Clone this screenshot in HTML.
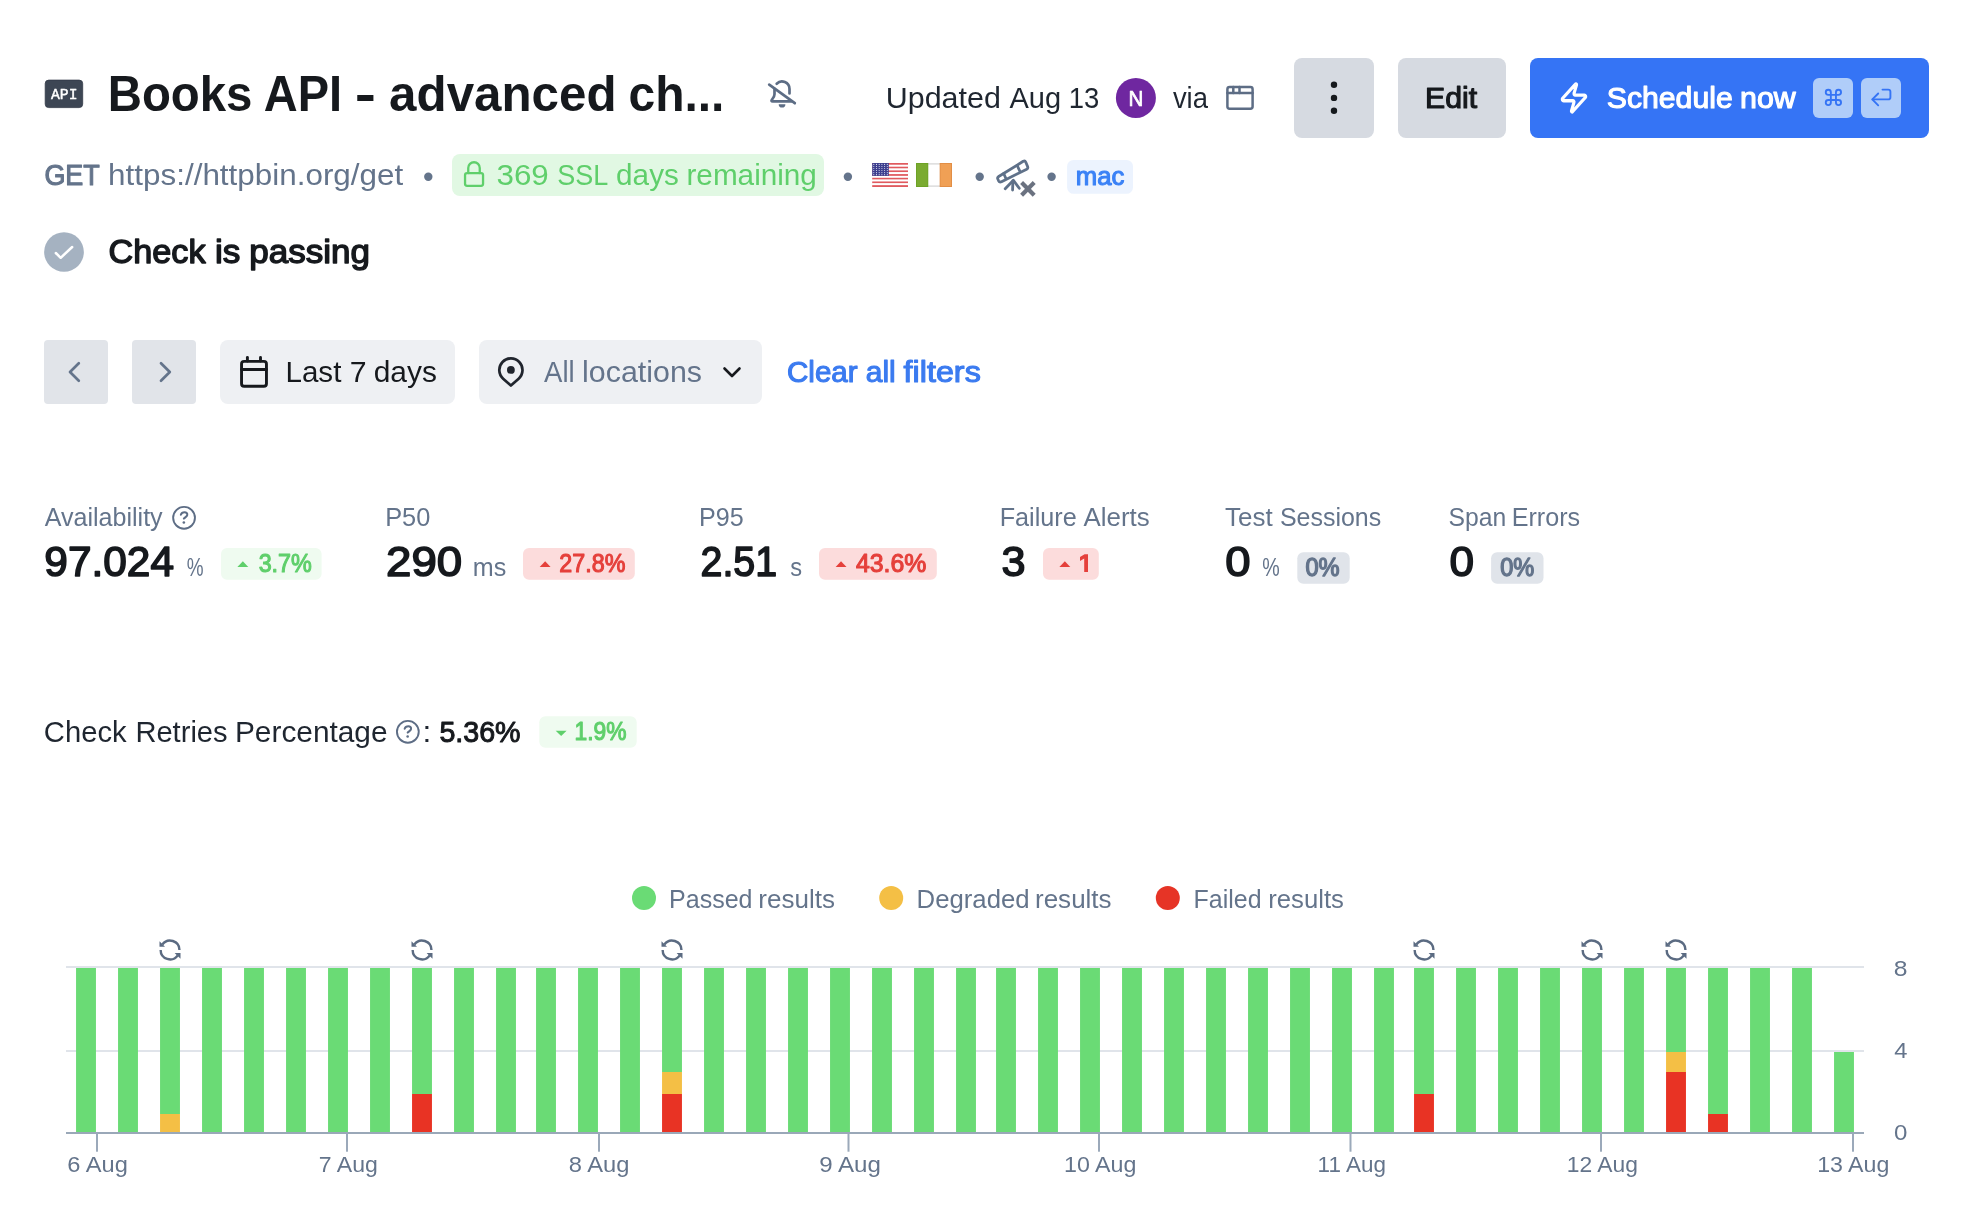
<!DOCTYPE html>
<html lang="en"><head><meta charset="utf-8"><title>Books API - advanced checks</title>
<style>
html,body{margin:0;padding:0;background:#ffffff;}
body{width:1988px;height:1218px;overflow:hidden;font-family:"Liberation Sans",sans-serif;}
svg{display:block;will-change:transform;}
</style></head>
<body>
<svg width="1988" height="1218" viewBox="0 0 1988 1218">
<rect x="45.2" y="80.1" width="37.5" height="27.5" rx="3.5" fill="#3d4654" stroke="#323a47" stroke-width="0.8"/>
<text y="99" font-family="Liberation Mono" font-size="15.5" font-weight="normal" fill="#ffffff" stroke="#ffffff" stroke-width="0.45" stroke-linejoin="round"><tspan x="51.04" textLength="26.48" lengthAdjust="spacingAndGlyphs">API</tspan></text>
<text y="110.8" font-family="Liberation Sans" font-size="50" font-weight="bold" fill="#16191d"><tspan x="107.70" textLength="144.75" lengthAdjust="spacingAndGlyphs">Books</tspan> <tspan x="263.83" textLength="78.32" lengthAdjust="spacingAndGlyphs">API</tspan> <tspan x="354.65" textLength="21.23" lengthAdjust="spacingAndGlyphs">-</tspan> <tspan x="389.12" textLength="227.42" lengthAdjust="spacingAndGlyphs">advanced</tspan> <tspan x="628.48" textLength="95.98" lengthAdjust="spacingAndGlyphs">ch...</tspan></text>
<g fill="none" stroke="#5d6d85" stroke-width="2.7" stroke-linecap="round" stroke-linejoin="round"><path d="M776.7 83.7 A7.5 7.5 0 0 1 789.5 89 V93.5"/><path d="M774.5 88.8 V94.3 Q774.5 97 772 99.6 Q770.6 101.3 772.8 101.3 H791.5"/><path d="M769.2 84.6 L794.8 103.2"/></g>
<path d="M778.7 104.2 H785.4 A3.35 3.35 0 0 1 778.7 104.2 Z" fill="#5d6d85"/>
<text y="107.8" font-family="Liberation Sans" font-size="29" font-weight="normal" fill="#1f2630"><tspan x="885.74" textLength="115.15" lengthAdjust="spacingAndGlyphs">Updated</tspan> <tspan x="1009.47" textLength="51.68" lengthAdjust="spacingAndGlyphs">Aug</tspan> <tspan x="1068.77" textLength="30.52" lengthAdjust="spacingAndGlyphs">13</tspan></text>
<circle cx="1135.9" cy="97.9" r="20" fill="#6f27a0" />
<text y="106" font-family="Liberation Sans" font-size="21.5" font-weight="normal" fill="#ffffff" stroke="#ffffff" stroke-width="0.7" stroke-linejoin="round"><tspan x="1128.58" textLength="14.86" lengthAdjust="spacingAndGlyphs">N</tspan></text>
<text y="107.8" font-family="Liberation Sans" font-size="29" font-weight="normal" fill="#1f2630"><tspan x="1172.88" textLength="35.07" lengthAdjust="spacingAndGlyphs">via</tspan></text>
<g fill="none" stroke="#5d6d85" stroke-width="2.5" stroke-linecap="round" stroke-linejoin="round"><rect x="1227.4" y="87.1" width="25.2" height="21.7" rx="2.2"/><path d="M1227.4 93.1H1252.6"/><path d="M1233.3 87.1V93.1"/><path d="M1239.5 87.1V93.1"/></g>
<rect x="1294" y="58" width="80" height="80" rx="8" fill="#d6dae1" />
<circle cx="1334" cy="84.8" r="3.2" fill="#16191d" />
<circle cx="1334" cy="97.9" r="3.2" fill="#16191d" />
<circle cx="1334" cy="110.8" r="3.2" fill="#16191d" />
<rect x="1398" y="58" width="108" height="80" rx="8" fill="#d6dae1" />
<text y="108" font-family="Liberation Sans" font-size="29" font-weight="normal" fill="#16191d" stroke="#16191d" stroke-width="1.1" stroke-linejoin="round"><tspan x="1425.05" textLength="52.06" lengthAdjust="spacingAndGlyphs">Edit</tspan></text>
<rect x="1530" y="58" width="399" height="80" rx="8" fill="#3574f5" />
<g transform="translate(1558.4,81.1) scale(1.3,1.4)" fill="none" stroke="#ffffff" stroke-width="2.4" stroke-linecap="round" stroke-linejoin="round"><path d="M4 14a1 1 0 0 1-.78-1.63l9.9-10.2a.5.5 0 0 1 .86.46l-1.92 6.02A1 1 0 0 0 13 10h7a1 1 0 0 1 .78 1.63l-9.9 10.2a.5.5 0 0 1-.86-.46l1.92-6.02A1 1 0 0 0 11 14z"/></g>
<text y="107.5" font-family="Liberation Sans" font-size="29" font-weight="normal" fill="#ffffff" stroke="#ffffff" stroke-width="1.1" stroke-linejoin="round"><tspan x="1606.82" textLength="125.89" lengthAdjust="spacingAndGlyphs">Schedule</tspan> <tspan x="1740.06" textLength="55.66" lengthAdjust="spacingAndGlyphs">now</tspan></text>
<rect x="1813" y="78" width="40" height="40" rx="6" fill="#b0cdf9" />
<rect x="1861" y="78" width="40" height="40" rx="6" fill="#b0cdf9" />
<g transform="translate(1823.2,87.25) scale(0.85)" fill="none" stroke="#3574f5" stroke-width="2.2" stroke-linecap="round" stroke-linejoin="round"><path d="M15 6v12a3 3 0 1 0 3-3H6a3 3 0 1 0 3 3V6a3 3 0 1 0-3 3h12a3 3 0 1 0-3-3"/></g>
<g fill="none" stroke="#3574f5" stroke-width="1.9" stroke-linecap="round" stroke-linejoin="round"><path d="M1882.5 89.6H1888.2Q1890.4 89.6 1890.4 91.8V97.2Q1890.4 99.4 1888.2 99.4H1872.6"/><path d="M1878.2 93.5L1872.3 99.4L1878.2 105.3"/></g>
<text y="184.7" font-family="Liberation Sans" font-size="29" font-weight="normal" fill="#64748b" stroke="#64748b" stroke-width="1.1" stroke-linejoin="round"><tspan x="44.39" textLength="55.42" lengthAdjust="spacingAndGlyphs">GET</tspan></text>
<text y="184.7" font-family="Liberation Sans" font-size="29" font-weight="normal" fill="#64748b"><tspan x="108.13" textLength="295.09" lengthAdjust="spacingAndGlyphs">https://httpbin.org/get</tspan></text>
<circle cx="428.3" cy="176.8" r="4.2" fill="#64748b" />
<circle cx="847.9" cy="176.8" r="4.2" fill="#64748b" />
<circle cx="979.7" cy="176.8" r="4.2" fill="#64748b" />
<circle cx="1051.6" cy="176.8" r="4.2" fill="#64748b" />
<rect x="452" y="154" width="372" height="42" rx="8" fill="#e1f8e3" />
<g fill="none" stroke="#5fcf6b" stroke-width="2.3" stroke-linecap="round" stroke-linejoin="round"><rect x="465.05" y="173.05" width="18" height="12.8" rx="2"/><path d="M468.25 173V168A5.75 5.75 0 0 1 479.75 168V173"/></g>
<text y="184.9" font-family="Liberation Sans" font-size="29" font-weight="normal" fill="#5fcf6b"><tspan x="496.48" textLength="52.32" lengthAdjust="spacingAndGlyphs">369</tspan> <tspan x="557.15" textLength="50.01" lengthAdjust="spacingAndGlyphs">SSL</tspan> <tspan x="616.12" textLength="62.71" lengthAdjust="spacingAndGlyphs">days</tspan> <tspan x="686.48" textLength="130.41" lengthAdjust="spacingAndGlyphs">remaining</tspan></text>
<g transform="translate(872.2,163)"><rect x="0" y="0.000" width="35.8" height="1.846" fill="#e05a5e"/><rect x="0" y="1.846" width="35.8" height="1.846" fill="#ffffff"/><rect x="0" y="3.692" width="35.8" height="1.846" fill="#e05a5e"/><rect x="0" y="5.538" width="35.8" height="1.846" fill="#ffffff"/><rect x="0" y="7.385" width="35.8" height="1.846" fill="#e05a5e"/><rect x="0" y="9.231" width="35.8" height="1.846" fill="#ffffff"/><rect x="0" y="11.077" width="35.8" height="1.846" fill="#e05a5e"/><rect x="0" y="12.923" width="35.8" height="1.846" fill="#ffffff"/><rect x="0" y="14.769" width="35.8" height="1.846" fill="#e05a5e"/><rect x="0" y="16.615" width="35.8" height="1.846" fill="#ffffff"/><rect x="0" y="18.462" width="35.8" height="1.846" fill="#e05a5e"/><rect x="0" y="20.308" width="35.8" height="1.846" fill="#ffffff"/><rect x="0" y="22.154" width="35.8" height="1.846" fill="#e05a5e"/><rect x="0" y="0" width="16.6" height="12.9" fill="#3d3f8f"/><circle cx="1.6" cy="1.4" r="0.55" fill="#dfe0f0"/><circle cx="4.300000000000001" cy="1.4" r="0.55" fill="#dfe0f0"/><circle cx="7.0" cy="1.4" r="0.55" fill="#dfe0f0"/><circle cx="9.700000000000001" cy="1.4" r="0.55" fill="#dfe0f0"/><circle cx="12.4" cy="1.4" r="0.55" fill="#dfe0f0"/><circle cx="15.1" cy="1.4" r="0.55" fill="#dfe0f0"/><circle cx="1.6" cy="3.4499999999999997" r="0.55" fill="#dfe0f0"/><circle cx="4.300000000000001" cy="3.4499999999999997" r="0.55" fill="#dfe0f0"/><circle cx="7.0" cy="3.4499999999999997" r="0.55" fill="#dfe0f0"/><circle cx="9.700000000000001" cy="3.4499999999999997" r="0.55" fill="#dfe0f0"/><circle cx="12.4" cy="3.4499999999999997" r="0.55" fill="#dfe0f0"/><circle cx="15.1" cy="3.4499999999999997" r="0.55" fill="#dfe0f0"/><circle cx="1.6" cy="5.5" r="0.55" fill="#dfe0f0"/><circle cx="4.300000000000001" cy="5.5" r="0.55" fill="#dfe0f0"/><circle cx="7.0" cy="5.5" r="0.55" fill="#dfe0f0"/><circle cx="9.700000000000001" cy="5.5" r="0.55" fill="#dfe0f0"/><circle cx="12.4" cy="5.5" r="0.55" fill="#dfe0f0"/><circle cx="15.1" cy="5.5" r="0.55" fill="#dfe0f0"/><circle cx="1.6" cy="7.549999999999999" r="0.55" fill="#dfe0f0"/><circle cx="4.300000000000001" cy="7.549999999999999" r="0.55" fill="#dfe0f0"/><circle cx="7.0" cy="7.549999999999999" r="0.55" fill="#dfe0f0"/><circle cx="9.700000000000001" cy="7.549999999999999" r="0.55" fill="#dfe0f0"/><circle cx="12.4" cy="7.549999999999999" r="0.55" fill="#dfe0f0"/><circle cx="15.1" cy="7.549999999999999" r="0.55" fill="#dfe0f0"/><circle cx="1.6" cy="9.6" r="0.55" fill="#dfe0f0"/><circle cx="4.300000000000001" cy="9.6" r="0.55" fill="#dfe0f0"/><circle cx="7.0" cy="9.6" r="0.55" fill="#dfe0f0"/><circle cx="9.700000000000001" cy="9.6" r="0.55" fill="#dfe0f0"/><circle cx="12.4" cy="9.6" r="0.55" fill="#dfe0f0"/><circle cx="15.1" cy="9.6" r="0.55" fill="#dfe0f0"/><circle cx="1.6" cy="11.65" r="0.55" fill="#dfe0f0"/><circle cx="4.300000000000001" cy="11.65" r="0.55" fill="#dfe0f0"/><circle cx="7.0" cy="11.65" r="0.55" fill="#dfe0f0"/><circle cx="9.700000000000001" cy="11.65" r="0.55" fill="#dfe0f0"/><circle cx="12.4" cy="11.65" r="0.55" fill="#dfe0f0"/><circle cx="15.1" cy="11.65" r="0.55" fill="#dfe0f0"/></g>
<rect x="916" y="163" width="12" height="24" rx="0" fill="#7aab31" />
<rect x="928" y="163" width="12" height="24" rx="0" fill="#ffffff" />
<rect x="940" y="163" width="12" height="24" rx="0" fill="#f0a055" />
<rect x="928" y="163" width="12" height="1.7" rx="0" fill="#e0e0e0" />
<rect x="928" y="185.3" width="12" height="1.7" rx="0" fill="#e0e0e0" />
<rect x="916.5" y="163.5" width="11.5" height="23" rx="0" fill="none" stroke="#5f9a1c" stroke-opacity="0.5" stroke-width="1"/>
<rect x="940" y="163.5" width="11.5" height="23" rx="0" fill="none" stroke="#d9823a" stroke-opacity="0.6" stroke-width="1"/>
<g fill="none" stroke="#5f7189" stroke-width="2.8" stroke-linecap="round" stroke-linejoin="round"><path d="M998.3 176.8 L1023.2 161.3 Q1025 160.5 1025.7 162 L1027.7 166.8 Q1028.2 168.4 1026.7 169.2 L1001.5 181.8 Q999.5 182.6 998.6 180.8 L997.7 178.8 Q997.3 177.5 998.3 176.8 Z"/><path d="M1003.7 173.5 L1005.8 178.3"/><path d="M1017.2 165.5 L1019.6 170.6"/><path d="M1005.2 188.8 L1013.4 180.2 L1019.3 188.3"/><path d="M1012.9 181 L1012.6 190"/></g>
<g stroke="#6b7280" stroke-width="4.2" stroke-linecap="butt"><path d="M1021.6 182.6 L1034.2 195.2"/><path d="M1034.2 182.6 L1021.6 195.2"/></g>
<rect x="1067.1" y="159.9" width="65.9" height="33.9" rx="6.5" fill="#ecf3fe" />
<text y="185" font-family="Liberation Sans" font-size="25.5" font-weight="normal" fill="#3b82f6" stroke="#3b82f6" stroke-width="1.1" stroke-linejoin="round"><tspan x="1075.76" textLength="48.61" lengthAdjust="spacingAndGlyphs">mac</tspan></text>
<circle cx="64" cy="252" r="19.85" fill="#a5b2c1" />
<path d="M55.8 253 L60.7 257.8 L72.2 247" fill="none" stroke="#ffffff" stroke-width="2.5" stroke-linecap="round" stroke-linejoin="round"/>
<text y="263.1" font-family="Liberation Sans" font-size="33" font-weight="normal" fill="#16191d" stroke="#16191d" stroke-width="1.4000000000000001" stroke-linejoin="round"><tspan x="108.56" textLength="97.00" lengthAdjust="spacingAndGlyphs">Check</tspan> <tspan x="215.00" textLength="25.38" lengthAdjust="spacingAndGlyphs">is</tspan> <tspan x="249.24" textLength="120.64" lengthAdjust="spacingAndGlyphs">passing</tspan></text>
<rect x="44" y="340" width="64" height="64" rx="4" fill="#e1e4e9" />
<rect x="132" y="340" width="64" height="64" rx="4" fill="#e1e4e9" />
<path d="M78.8 363.2 L70 372 L78.8 380.8" fill="none" stroke="#64748b" stroke-width="2.7" stroke-linecap="round" stroke-linejoin="round"/>
<path d="M161 363.2 L169.8 372 L161 380.8" fill="none" stroke="#64748b" stroke-width="2.7" stroke-linecap="round" stroke-linejoin="round"/>
<rect x="220" y="340" width="235" height="64" rx="8" fill="#eef0f3" />
<g fill="none" stroke="#16191d" stroke-width="2.9" stroke-linecap="round" stroke-linejoin="round"><path d="M247.4 357.5V361"/><path d="M260.5 357.5V361"/><rect width="24.9" height="24.9" x="241.55" y="361.35" rx="2.6"/><path d="M241.55 369.5H266.45"/></g>
<text y="382.1" font-family="Liberation Sans" font-size="29" font-weight="normal" fill="#16191d"><tspan x="285.48" textLength="55.92" lengthAdjust="spacingAndGlyphs">Last</tspan> <tspan x="349.83" textLength="16.84" lengthAdjust="spacingAndGlyphs">7</tspan> <tspan x="373.71" textLength="63.23" lengthAdjust="spacingAndGlyphs">days</tspan></text>
<rect x="479" y="340" width="283" height="64" rx="8" fill="#eef0f3" />
<path d="M503.15 378.63A11.6 11.6 0 1 1 518.65 378.63L510.9 385.6Z" fill="none" stroke="#20252d" stroke-width="2.7" stroke-linejoin="round"/>
<circle cx="510.9" cy="369.9" r="3.9" fill="#20252d" />
<text y="382" font-family="Liberation Sans" font-size="29" font-weight="normal" fill="#64748b"><tspan x="544.08" textLength="30.60" lengthAdjust="spacingAndGlyphs">All</tspan> <tspan x="582.10" textLength="119.93" lengthAdjust="spacingAndGlyphs">locations</tspan></text>
<path d="M724.5 368.5 l7.5 7.5 l7.5 -7.5" fill="none" stroke="#16191d" stroke-width="2.6" stroke-linecap="round" stroke-linejoin="round"/>
<text y="381.6" font-family="Liberation Sans" font-size="29" font-weight="normal" fill="#3b7bf0" stroke="#3b7bf0" stroke-width="1.1" stroke-linejoin="round"><tspan x="787.01" textLength="70.62" lengthAdjust="spacingAndGlyphs">Clear</tspan> <tspan x="865.75" textLength="29.98" lengthAdjust="spacingAndGlyphs">all</tspan> <tspan x="903.64" textLength="77.16" lengthAdjust="spacingAndGlyphs">filters</tspan></text>
<text y="526" font-family="Liberation Sans" font-size="25" font-weight="normal" fill="#64748b"><tspan x="44.67" textLength="117.98" lengthAdjust="spacingAndGlyphs">Availability</tspan></text>
<circle cx="184.05" cy="517.8" r="10.9" fill="none" stroke="#5d6d85" stroke-width="1.9"/>
<path d="M180.85000000000002 514.8 C181.45000000000002 512.8 183.05 512.1999999999999 184.55 512.1999999999999 C186.35000000000002 512.1999999999999 187.55 513.4 187.25 515.0 C186.95000000000002 516.5999999999999 184.95000000000002 517.3 183.85000000000002 518.5999999999999" fill="none" stroke="#5d6d85" stroke-width="2" stroke-linecap="round"/>
<circle cx="183.85000000000002" cy="522.5" r="1.3" fill="#5d6d85"/>
<text y="526" font-family="Liberation Sans" font-size="25" font-weight="normal" fill="#64748b"><tspan x="385.17" textLength="45.13" lengthAdjust="spacingAndGlyphs">P50</tspan></text>
<text y="526" font-family="Liberation Sans" font-size="25" font-weight="normal" fill="#64748b"><tspan x="698.99" textLength="44.70" lengthAdjust="spacingAndGlyphs">P95</tspan></text>
<text y="526" font-family="Liberation Sans" font-size="25" font-weight="normal" fill="#64748b"><tspan x="999.68" textLength="76.99" lengthAdjust="spacingAndGlyphs">Failure</tspan> <tspan x="1083.47" textLength="66.17" lengthAdjust="spacingAndGlyphs">Alerts</tspan></text>
<text y="526" font-family="Liberation Sans" font-size="25" font-weight="normal" fill="#64748b"><tspan x="1225.05" textLength="47.58" lengthAdjust="spacingAndGlyphs">Test</tspan> <tspan x="1279.88" textLength="101.36" lengthAdjust="spacingAndGlyphs">Sessions</tspan></text>
<text y="526" font-family="Liberation Sans" font-size="25" font-weight="normal" fill="#64748b"><tspan x="1448.59" textLength="57.73" lengthAdjust="spacingAndGlyphs">Span</tspan> <tspan x="1511.69" textLength="68.45" lengthAdjust="spacingAndGlyphs">Errors</tspan></text>
<text y="576" font-family="Liberation Sans" font-size="43" font-weight="normal" fill="#16191d" stroke="#16191d" stroke-width="1.6" stroke-linejoin="round"><tspan x="44.37" textLength="129.64" lengthAdjust="spacingAndGlyphs">97.024</tspan></text>
<text y="576" font-family="Liberation Sans" font-size="25" font-weight="normal" fill="#64748b"><tspan x="186.84" textLength="16.81" lengthAdjust="spacingAndGlyphs">%</tspan></text>
<rect x="221" y="548" width="100.6" height="31.7" rx="6" fill="#effbf0" />
<path d="M237.4 566.95 L248.3 566.95 L242.85 561.25 Z" fill="#5fcf6b"/>
<text y="571.7" font-family="Liberation Sans" font-size="25" font-weight="normal" fill="#5fcf6b" stroke="#5fcf6b" stroke-width="1.1" stroke-linejoin="round"><tspan x="258.65" textLength="53.18" lengthAdjust="spacingAndGlyphs">3.7%</tspan></text>
<text y="576" font-family="Liberation Sans" font-size="43" font-weight="normal" fill="#16191d" stroke="#16191d" stroke-width="1.6" stroke-linejoin="round"><tspan x="386.04" textLength="76.08" lengthAdjust="spacingAndGlyphs">290</tspan></text>
<text y="576" font-family="Liberation Sans" font-size="25" font-weight="normal" fill="#64748b"><tspan x="472.87" textLength="33.49" lengthAdjust="spacingAndGlyphs">ms</tspan></text>
<rect x="523" y="548" width="111.8" height="31.7" rx="6" fill="#fcdcdc" />
<path d="M539.7 566.95 L550.6 566.95 L545.1500000000001 561.25 Z" fill="#e5403b"/>
<text y="571.7" font-family="Liberation Sans" font-size="25" font-weight="normal" fill="#e5403b" stroke="#e5403b" stroke-width="1.1" stroke-linejoin="round"><tspan x="559.30" textLength="66.06" lengthAdjust="spacingAndGlyphs">27.8%</tspan></text>
<text y="576" font-family="Liberation Sans" font-size="43" font-weight="normal" fill="#16191d" stroke="#16191d" stroke-width="1.6" stroke-linejoin="round"><tspan x="700.54" textLength="76.56" lengthAdjust="spacingAndGlyphs">2.51</tspan></text>
<text y="576" font-family="Liberation Sans" font-size="25" font-weight="normal" fill="#64748b"><tspan x="790.29" textLength="11.84" lengthAdjust="spacingAndGlyphs">s</tspan></text>
<rect x="819" y="548" width="117.8" height="31.7" rx="6" fill="#fcdcdc" />
<path d="M835.6 566.95 L846.5 566.95 L841.0500000000001 561.25 Z" fill="#e5403b"/>
<text y="571.7" font-family="Liberation Sans" font-size="25" font-weight="normal" fill="#e5403b" stroke="#e5403b" stroke-width="1.1" stroke-linejoin="round"><tspan x="856.00" textLength="70.38" lengthAdjust="spacingAndGlyphs">43.6%</tspan></text>
<text y="576" font-family="Liberation Sans" font-size="43" font-weight="normal" fill="#16191d" stroke="#16191d" stroke-width="1.6" stroke-linejoin="round"><tspan x="1001.62" textLength="24.02" lengthAdjust="spacingAndGlyphs">3</tspan></text>
<rect x="1043" y="548" width="55.8" height="31.7" rx="6" fill="#fcdcdc" />
<path d="M1059.4 566.95 L1070.3000000000002 566.95 L1064.8500000000001 561.25 Z" fill="#e5403b"/>
<path d="M1080 557 L1084.6 554.3 H1088 V571.9 H1084.2 V558.5 L1080 560.9 Z" fill="#e5403b"/>
<text y="576" font-family="Liberation Sans" font-size="43" font-weight="normal" fill="#16191d" stroke="#16191d" stroke-width="1.6" stroke-linejoin="round"><tspan x="1225.27" textLength="25.29" lengthAdjust="spacingAndGlyphs">0</tspan></text>
<text y="576" font-family="Liberation Sans" font-size="25" font-weight="normal" fill="#64748b"><tspan x="1262.21" textLength="17.46" lengthAdjust="spacingAndGlyphs">%</tspan></text>
<rect x="1297.3" y="552.3" width="52.4" height="31.4" rx="6" fill="#e0e4ea" />
<text y="575.8" font-family="Liberation Sans" font-size="25" font-weight="normal" fill="#64748b" stroke="#64748b" stroke-width="1.4000000000000001" stroke-linejoin="round"><tspan x="1305.46" textLength="34.16" lengthAdjust="spacingAndGlyphs">0%</tspan></text>
<text y="576" font-family="Liberation Sans" font-size="43" font-weight="normal" fill="#16191d" stroke="#16191d" stroke-width="1.6" stroke-linejoin="round"><tspan x="1449.40" textLength="24.54" lengthAdjust="spacingAndGlyphs">0</tspan></text>
<rect x="1491.1" y="552.3" width="52.4" height="31.4" rx="6" fill="#e0e4ea" />
<text y="575.8" font-family="Liberation Sans" font-size="25" font-weight="normal" fill="#64748b" stroke="#64748b" stroke-width="1.4000000000000001" stroke-linejoin="round"><tspan x="1500.16" textLength="34.06" lengthAdjust="spacingAndGlyphs">0%</tspan></text>
<text y="741.8" font-family="Liberation Sans" font-size="29" font-weight="normal" fill="#1f2630"><tspan x="43.89" textLength="82.79" lengthAdjust="spacingAndGlyphs">Check</tspan> <tspan x="135.42" textLength="92.20" lengthAdjust="spacingAndGlyphs">Retries</tspan> <tspan x="234.96" textLength="152.61" lengthAdjust="spacingAndGlyphs">Percentage</tspan></text>
<circle cx="407.85" cy="731.8" r="10.9" fill="none" stroke="#5d6d85" stroke-width="1.9"/>
<path d="M404.65000000000003 728.8 C405.25 726.8 406.85 726.1999999999999 408.35 726.1999999999999 C410.15000000000003 726.1999999999999 411.35 727.4 411.05 729.0 C410.75 730.5999999999999 408.75 731.3 407.65000000000003 732.5999999999999" fill="none" stroke="#5d6d85" stroke-width="2" stroke-linecap="round"/>
<circle cx="407.65000000000003" cy="736.5" r="1.3" fill="#5d6d85"/>
<text y="741.8" font-family="Liberation Sans" font-size="29" font-weight="normal" fill="#1f2630"><tspan x="422.44" textLength="8.79" lengthAdjust="spacingAndGlyphs">:</tspan></text>
<text y="741.7" font-family="Liberation Sans" font-size="29" font-weight="normal" fill="#16191d" stroke="#16191d" stroke-width="1.0" stroke-linejoin="round"><tspan x="439.38" textLength="81.21" lengthAdjust="spacingAndGlyphs">5.36%</tspan></text>
<rect x="539.3" y="716.3" width="97.4" height="31.5" rx="6" fill="#effbf0" />
<path d="M555.7 730.8 L566.6 730.8 L561.1500000000001 736.0 Z" fill="#5fcf6b"/>
<text y="739.6" font-family="Liberation Sans" font-size="25" font-weight="normal" fill="#5fcf6b" stroke="#5fcf6b" stroke-width="1.1" stroke-linejoin="round"><tspan x="574.55" textLength="51.98" lengthAdjust="spacingAndGlyphs">1.9%</tspan></text>
<circle cx="644" cy="898" r="12" fill="#6adb75" />
<circle cx="891.2" cy="898" r="12" fill="#f4bf45" />
<circle cx="1167.8" cy="898" r="12" fill="#e63426" />
<text y="908.2" font-family="Liberation Sans" font-size="25" font-weight="normal" fill="#64748b"><tspan x="669.10" textLength="83.44" lengthAdjust="spacingAndGlyphs">Passed</tspan> <tspan x="758.31" textLength="76.61" lengthAdjust="spacingAndGlyphs">results</tspan></text>
<text y="908.2" font-family="Liberation Sans" font-size="25" font-weight="normal" fill="#64748b"><tspan x="916.64" textLength="112.98" lengthAdjust="spacingAndGlyphs">Degraded</tspan> <tspan x="1035.01" textLength="76.61" lengthAdjust="spacingAndGlyphs">results</tspan></text>
<text y="908.2" font-family="Liberation Sans" font-size="25" font-weight="normal" fill="#64748b"><tspan x="1193.61" textLength="67.88" lengthAdjust="spacingAndGlyphs">Failed</tspan> <tspan x="1268.23" textLength="75.68" lengthAdjust="spacingAndGlyphs">results</tspan></text>
<rect x="66" y="966" width="1798" height="2" rx="0" fill="#e0e4ea" />
<rect x="66" y="1050" width="1798" height="2" rx="0" fill="#e0e4ea" />
<rect x="76.05" y="968" width="19.9" height="166" rx="0" fill="#6adb75" />
<rect x="118.05" y="968" width="19.9" height="166" rx="0" fill="#6adb75" />
<rect x="160.05" y="1114" width="19.9" height="20" rx="0" fill="#f4bf45" />
<rect x="160.05" y="968" width="19.9" height="146" rx="0" fill="#6adb75" />
<rect x="202.05" y="968" width="19.9" height="166" rx="0" fill="#6adb75" />
<rect x="244.05" y="968" width="19.9" height="166" rx="0" fill="#6adb75" />
<rect x="286.05" y="968" width="19.9" height="166" rx="0" fill="#6adb75" />
<rect x="328.05" y="968" width="19.9" height="166" rx="0" fill="#6adb75" />
<rect x="370.05" y="968" width="19.9" height="166" rx="0" fill="#6adb75" />
<rect x="412.05" y="1094" width="19.9" height="40" rx="0" fill="#e83324" />
<rect x="412.05" y="968" width="19.9" height="126" rx="0" fill="#6adb75" />
<rect x="454.05" y="968" width="19.9" height="166" rx="0" fill="#6adb75" />
<rect x="496.05" y="968" width="19.9" height="166" rx="0" fill="#6adb75" />
<rect x="536.05" y="968" width="19.9" height="166" rx="0" fill="#6adb75" />
<rect x="578.05" y="968" width="19.9" height="166" rx="0" fill="#6adb75" />
<rect x="620.05" y="968" width="19.9" height="166" rx="0" fill="#6adb75" />
<rect x="662.05" y="1094" width="19.9" height="40" rx="0" fill="#e83324" />
<rect x="662.05" y="1072" width="19.9" height="22" rx="0" fill="#f4bf45" />
<rect x="662.05" y="968" width="19.9" height="104" rx="0" fill="#6adb75" />
<rect x="704.05" y="968" width="19.9" height="166" rx="0" fill="#6adb75" />
<rect x="746.05" y="968" width="19.9" height="166" rx="0" fill="#6adb75" />
<rect x="788.05" y="968" width="19.9" height="166" rx="0" fill="#6adb75" />
<rect x="830.05" y="968" width="19.9" height="166" rx="0" fill="#6adb75" />
<rect x="872.05" y="968" width="19.9" height="166" rx="0" fill="#6adb75" />
<rect x="914.05" y="968" width="19.9" height="166" rx="0" fill="#6adb75" />
<rect x="956.05" y="968" width="19.9" height="166" rx="0" fill="#6adb75" />
<rect x="996.05" y="968" width="19.9" height="166" rx="0" fill="#6adb75" />
<rect x="1038.05" y="968" width="19.9" height="166" rx="0" fill="#6adb75" />
<rect x="1080.05" y="968" width="19.9" height="166" rx="0" fill="#6adb75" />
<rect x="1122.05" y="968" width="19.9" height="166" rx="0" fill="#6adb75" />
<rect x="1164.05" y="968" width="19.9" height="166" rx="0" fill="#6adb75" />
<rect x="1206.05" y="968" width="19.9" height="166" rx="0" fill="#6adb75" />
<rect x="1248.05" y="968" width="19.9" height="166" rx="0" fill="#6adb75" />
<rect x="1290.05" y="968" width="19.9" height="166" rx="0" fill="#6adb75" />
<rect x="1332.05" y="968" width="19.9" height="166" rx="0" fill="#6adb75" />
<rect x="1374.05" y="968" width="19.9" height="166" rx="0" fill="#6adb75" />
<rect x="1414.05" y="1094" width="19.9" height="40" rx="0" fill="#e83324" />
<rect x="1414.05" y="968" width="19.9" height="126" rx="0" fill="#6adb75" />
<rect x="1456.05" y="968" width="19.9" height="166" rx="0" fill="#6adb75" />
<rect x="1498.05" y="968" width="19.9" height="166" rx="0" fill="#6adb75" />
<rect x="1540.05" y="968" width="19.9" height="166" rx="0" fill="#6adb75" />
<rect x="1582.05" y="968" width="19.9" height="166" rx="0" fill="#6adb75" />
<rect x="1624.05" y="968" width="19.9" height="166" rx="0" fill="#6adb75" />
<rect x="1666.05" y="1072" width="19.9" height="62" rx="0" fill="#e83324" />
<rect x="1666.05" y="1052" width="19.9" height="20" rx="0" fill="#f4bf45" />
<rect x="1666.05" y="968" width="19.9" height="84" rx="0" fill="#6adb75" />
<rect x="1708.05" y="1114" width="19.9" height="20" rx="0" fill="#e83324" />
<rect x="1708.05" y="968" width="19.9" height="146" rx="0" fill="#6adb75" />
<rect x="1750.05" y="968" width="19.9" height="166" rx="0" fill="#6adb75" />
<rect x="1792.05" y="968" width="19.9" height="166" rx="0" fill="#6adb75" />
<rect x="1834.05" y="1052" width="19.9" height="82" rx="0" fill="#6adb75" />
<rect x="66" y="1132" width="1798" height="2" rx="0" fill="#9aa8b8" />
<rect x="96.00" y="1133" width="2" height="18.7" rx="0" fill="#9ba9ba" />
<text y="1172" font-family="Liberation Sans" font-size="22" font-weight="normal" fill="#64748b"><tspan x="67.39" textLength="60.52" lengthAdjust="spacingAndGlyphs">6 Aug</tspan></text>
<rect x="346.00" y="1133" width="2" height="18.7" rx="0" fill="#9ba9ba" />
<text y="1172" font-family="Liberation Sans" font-size="22" font-weight="normal" fill="#64748b"><tspan x="318.82" textLength="59.05" lengthAdjust="spacingAndGlyphs">7 Aug</tspan></text>
<rect x="598.00" y="1133" width="2" height="18.7" rx="0" fill="#9ba9ba" />
<text y="1172" font-family="Liberation Sans" font-size="22" font-weight="normal" fill="#64748b"><tspan x="568.82" textLength="60.69" lengthAdjust="spacingAndGlyphs">8 Aug</tspan></text>
<rect x="847.50" y="1133" width="2" height="18.7" rx="0" fill="#9ba9ba" />
<text y="1172" font-family="Liberation Sans" font-size="22" font-weight="normal" fill="#64748b"><tspan x="819.20" textLength="61.74" lengthAdjust="spacingAndGlyphs">9 Aug</tspan></text>
<rect x="1098.00" y="1133" width="2" height="18.7" rx="0" fill="#9ba9ba" />
<text y="1172" font-family="Liberation Sans" font-size="22" font-weight="normal" fill="#64748b"><tspan x="1064.08" textLength="72.38" lengthAdjust="spacingAndGlyphs">10 Aug</tspan></text>
<rect x="1349.50" y="1133" width="2" height="18.7" rx="0" fill="#9ba9ba" />
<text y="1172" font-family="Liberation Sans" font-size="22" font-weight="normal" fill="#64748b"><tspan x="1317.64" textLength="68.27" lengthAdjust="spacingAndGlyphs">11 Aug</tspan></text>
<rect x="1600.00" y="1133" width="2" height="18.7" rx="0" fill="#9ba9ba" />
<text y="1172" font-family="Liberation Sans" font-size="22" font-weight="normal" fill="#64748b"><tspan x="1566.81" textLength="71.13" lengthAdjust="spacingAndGlyphs">12 Aug</tspan></text>
<rect x="1852.00" y="1133" width="2" height="18.7" rx="0" fill="#9ba9ba" />
<text y="1172" font-family="Liberation Sans" font-size="22" font-weight="normal" fill="#64748b"><tspan x="1817.19" textLength="72.17" lengthAdjust="spacingAndGlyphs">13 Aug</tspan></text>
<text y="975.9" font-family="Liberation Sans" font-size="22" font-weight="normal" fill="#64748b"><tspan x="1893.78" textLength="13.73" lengthAdjust="spacingAndGlyphs">8</tspan></text>
<text y="1058" font-family="Liberation Sans" font-size="22" font-weight="normal" fill="#64748b"><tspan x="1894.16" textLength="13.20" lengthAdjust="spacingAndGlyphs">4</tspan></text>
<text y="1140" font-family="Liberation Sans" font-size="22" font-weight="normal" fill="#64748b"><tspan x="1894.04" textLength="13.40" lengthAdjust="spacingAndGlyphs">0</tspan></text>
<g fill="none" stroke="#5b6b82" stroke-width="2.4" stroke-linecap="butt"><path d="M162.35 944.56 A9.4 9.4 0 0 1 179.45 949.95"/><path d="M160.65 949.95 A9.4 9.4 0 0 0 177.75 955.34"/></g>
<path d="M159.50 941.20 L159.50 946.70 L165.00 946.70 Z" fill="#5b6b82"/>
<path d="M180.50 958.70 L180.50 953.00 L174.60 953.00 Z" fill="#5b6b82"/>
<g fill="none" stroke="#5b6b82" stroke-width="2.4" stroke-linecap="butt"><path d="M414.35 944.56 A9.4 9.4 0 0 1 431.45 949.95"/><path d="M412.65 949.95 A9.4 9.4 0 0 0 429.75 955.34"/></g>
<path d="M411.50 941.20 L411.50 946.70 L417.00 946.70 Z" fill="#5b6b82"/>
<path d="M432.50 958.70 L432.50 953.00 L426.60 953.00 Z" fill="#5b6b82"/>
<g fill="none" stroke="#5b6b82" stroke-width="2.4" stroke-linecap="butt"><path d="M664.35 944.56 A9.4 9.4 0 0 1 681.45 949.95"/><path d="M662.65 949.95 A9.4 9.4 0 0 0 679.75 955.34"/></g>
<path d="M661.50 941.20 L661.50 946.70 L667.00 946.70 Z" fill="#5b6b82"/>
<path d="M682.50 958.70 L682.50 953.00 L676.60 953.00 Z" fill="#5b6b82"/>
<g fill="none" stroke="#5b6b82" stroke-width="2.4" stroke-linecap="butt"><path d="M1416.35 944.56 A9.4 9.4 0 0 1 1433.45 949.95"/><path d="M1414.65 949.95 A9.4 9.4 0 0 0 1431.75 955.34"/></g>
<path d="M1413.50 941.20 L1413.50 946.70 L1419.00 946.70 Z" fill="#5b6b82"/>
<path d="M1434.50 958.70 L1434.50 953.00 L1428.60 953.00 Z" fill="#5b6b82"/>
<g fill="none" stroke="#5b6b82" stroke-width="2.4" stroke-linecap="butt"><path d="M1584.35 944.56 A9.4 9.4 0 0 1 1601.45 949.95"/><path d="M1582.65 949.95 A9.4 9.4 0 0 0 1599.75 955.34"/></g>
<path d="M1581.50 941.20 L1581.50 946.70 L1587.00 946.70 Z" fill="#5b6b82"/>
<path d="M1602.50 958.70 L1602.50 953.00 L1596.60 953.00 Z" fill="#5b6b82"/>
<g fill="none" stroke="#5b6b82" stroke-width="2.4" stroke-linecap="butt"><path d="M1668.35 944.56 A9.4 9.4 0 0 1 1685.45 949.95"/><path d="M1666.65 949.95 A9.4 9.4 0 0 0 1683.75 955.34"/></g>
<path d="M1665.50 941.20 L1665.50 946.70 L1671.00 946.70 Z" fill="#5b6b82"/>
<path d="M1686.50 958.70 L1686.50 953.00 L1680.60 953.00 Z" fill="#5b6b82"/>
</svg>
</body></html>
